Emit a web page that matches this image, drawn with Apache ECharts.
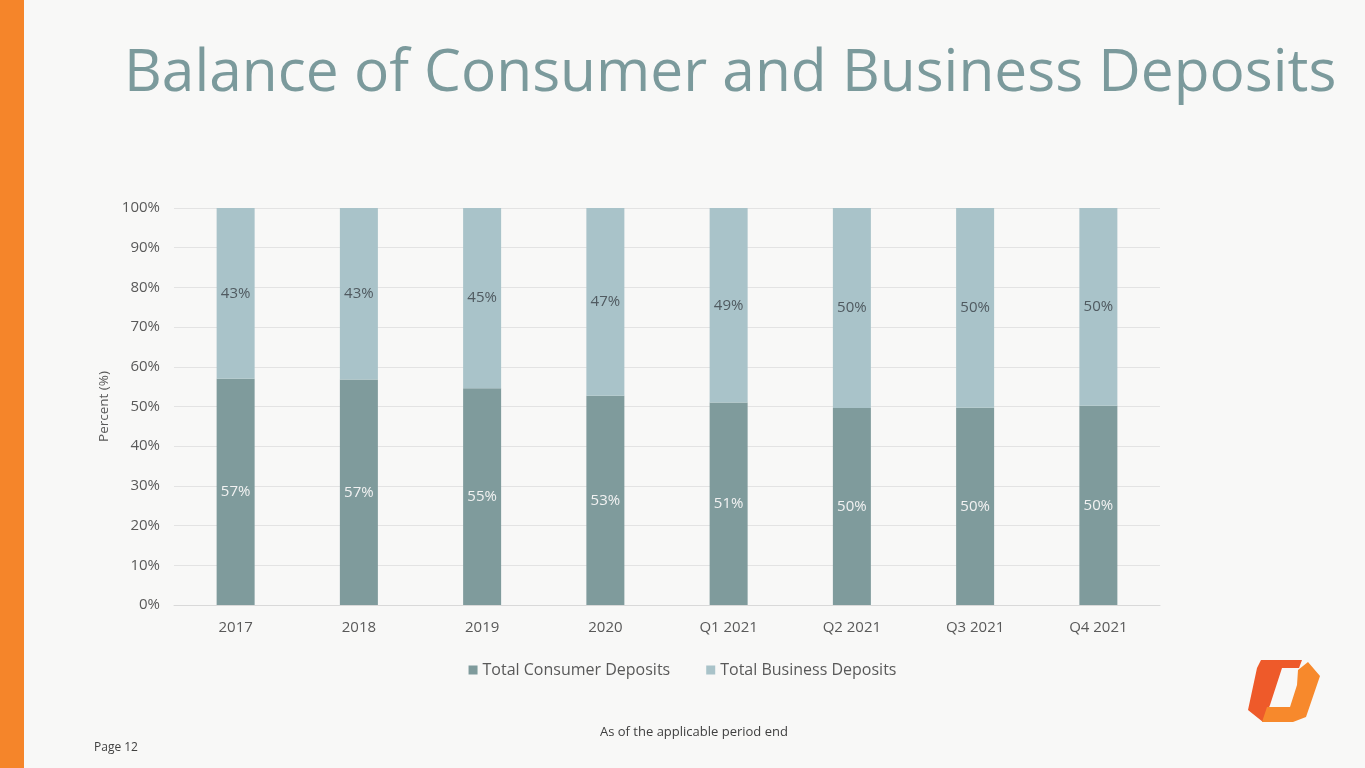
<!DOCTYPE html>
<html>
<head>
<meta charset="utf-8">
<script src="https://cdn.jsdelivr.net/npm/echarts@6/dist/echarts.min.js"></script>
<style>
  html, body { margin: 0; padding: 0; background: #f8f8f7; }
  #chart { width: 1365px; height: 768px; }
</style>
</head>
<body>
<div id="chart"></div>
<script>
var categories = ['2017', '2018', '2019', '2020', 'Q1 2021', 'Q2 2021', 'Q3 2021', 'Q4 2021'];
var consumer = [57.0, 56.8, 54.6, 52.7, 51.0, 49.6, 49.7, 50.2];
var business = [43.0, 43.2, 45.4, 47.3, 49.0, 50.4, 50.3, 49.8];
var yTicks = [0, 10, 20, 30, 40, 50, 60, 70, 80, 90, 100];

var font = 'Open Sans';
var myChart = echarts.init(document.getElementById('chart'));

function pct(p) {
    return Math.round(p.value) + '%';
}

myChart.setOption({
    backgroundColor: '#f8f8f7',
    textStyle: { fontFamily: font },
    graphic: [
        // orange strip on the left
        { type: 'rect', left: 0, top: 0, shape: { width: 24, height: 768 }, style: { fill: '#f5852a' } },
        {
            type: 'text', left: 124, top: 45,
            style: { text: 'Balance of Consumer and Business Deposits', fontFamily: font, fontSize: 58.6, fill: '#7b9a9c' }
        },
        {
            type: 'text', left: 600, top: 726,
            style: { text: 'As of the applicable period end', fontFamily: font, fontSize: 13, fill: '#404040' }
        },
        {
            type: 'text', left: 94, top: 742,
            style: { text: 'Page 12', fontFamily: font, fontSize: 12, fill: '#404040' }
        },
        // logo
        {
            type: 'polygon',
            shape: { points: [[1261, 660], [1302, 660], [1299, 668], [1282, 668], [1270, 705], [1263, 722], [1248, 710], [1257, 668]] },
            style: { fill: '#ee5a2a' }
        },
        {
            type: 'polygon',
            shape: { points: [[1308, 662], [1320, 676], [1306, 717], [1293, 722], [1262, 722], [1267, 707], [1290, 707], [1297, 685], [1298, 670]] },
            style: { fill: '#f7892c' }
        }
    ],
    grid: { left: 174, right: 205, top: 208, bottom: 163 },
    legend: {
        bottom: 85,
        left: 'center',
        itemWidth: 9,
        itemHeight: 9,
        itemGap: 36,
        icon: 'rect',
        textStyle: { color: '#595959', fontSize: 16, fontFamily: font },
        data: ['Total Consumer Deposits', 'Total Business Deposits']
    },
    xAxis: {
        type: 'category',
        data: categories,
        axisLine: { lineStyle: { color: '#d9d9d9' } },
        axisTick: { show: false },
        axisLabel: { color: '#595959', fontSize: 15, margin: 15, fontFamily: font }
    },
    yAxis: {
        type: 'value',
        name: 'Percent (%)',
        nameLocation: 'middle',
        nameGap: 52,
        nameTextStyle: { color: '#595959', fontSize: 13.5, fontFamily: font },
        min: 0,
        max: 100,
        interval: 10,
        axisLine: { show: false },
        axisTick: { show: false },
        splitLine: { lineStyle: { color: '#e3e3e3' } },
        axisLabel: {
            color: '#595959', fontSize: 15, margin: 14, fontFamily: font,
            formatter: function (v) { return yTicks.indexOf(v) >= 0 ? v + '%' : ''; }
        }
    },
    series: [{
        name: 'Total Consumer Deposits',
        type: 'bar',
        stack: 'total',
        barWidth: 38,
        itemStyle: { color: '#7f9b9c' },
        label: { show: true, position: 'inside', color: '#f2f2f2', fontSize: 15, formatter: pct, fontFamily: font },
        data: consumer
    }, {
        name: 'Total Business Deposits',
        type: 'bar',
        stack: 'total',
        barWidth: 38,
        itemStyle: { color: '#a9c3c9' },
        label: { show: true, position: 'inside', color: '#505a60', fontSize: 15, formatter: pct, fontFamily: font },
        data: business
    }]
});
</script>
</body>
</html>
